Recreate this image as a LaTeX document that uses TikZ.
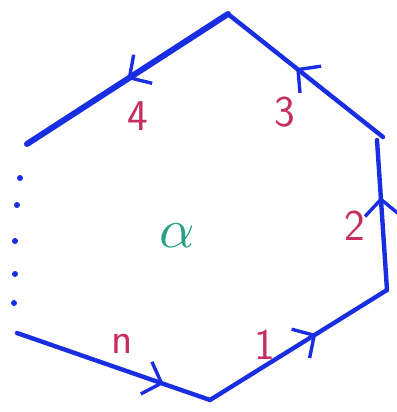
\documentclass[tikz,border=0pt]{standalone}
\usetikzlibrary{arrows.meta,decorations.markings}
\definecolor{penblue}{RGB}{25,45,225}
\definecolor{penred}{RGB}{200,45,95}
\definecolor{pengreen}{RGB}{40,160,130}
\tikzset{
  edgeline/.style={draw=penblue, line width=4.4pt, line cap=round},
  arrowat/.style={postaction={decorate},
    decoration={markings, mark=at position #1 with {\arrow[penblue,line width=3.4pt]{Straight Barb[length=16pt,width=34pt]}}}},
  num/.style={text=penred, font=\sffamily\fontsize{44}{44}\selectfont, inner sep=0pt},
  dot/.style={circle, fill=penblue, inner sep=0pt, minimum size=6pt}
}
\begin{document}
\begin{tikzpicture}[x=1pt,y=-1pt]
\useasboundingbox (0,0) rectangle (396,412);
\coordinate (T) at (228,14);
\coordinate (UL) at (27,144);
\coordinate (UR) at (383,137);
\coordinate (RT) at (377,140);
\coordinate (RB) at (387,290);
\coordinate (B) at (210,400);
\coordinate (LL) at (17,333);
\draw[edgeline, line width=6pt, arrowat=0.5] (T) -- (UL);
\draw[edgeline, arrowat=0.56] (UR) -- (T);
\draw[edgeline, arrowat=0.62] (RB) -- (RT);
\draw[edgeline, arrowat=0.6] (B) -- (RB);
\draw[edgeline, arrowat=0.76] (LL) -- (B);
\node[dot] (d1) at (20,178) {};
\node[dot] (d2) at (17,205) {};
\node[dot] (d3) at (15,241) {};
\node[dot] (d4) at (15,274) {};
\node[dot] (d5) at (14,303) {};
\node[num] (l4) at (138,116) {4};
\node[num] (l3) at (285,112) {3};
\node[num] (l2) at (355,226) {2};
\node[num] (l1) at (265,345) {1};
\node[num] (ln) at (122,344) {n};
\node[text=pengreen, scale=5.5, inner sep=0pt] (al) at (177,236) {$\alpha$};
\end{tikzpicture}
\end{document}
